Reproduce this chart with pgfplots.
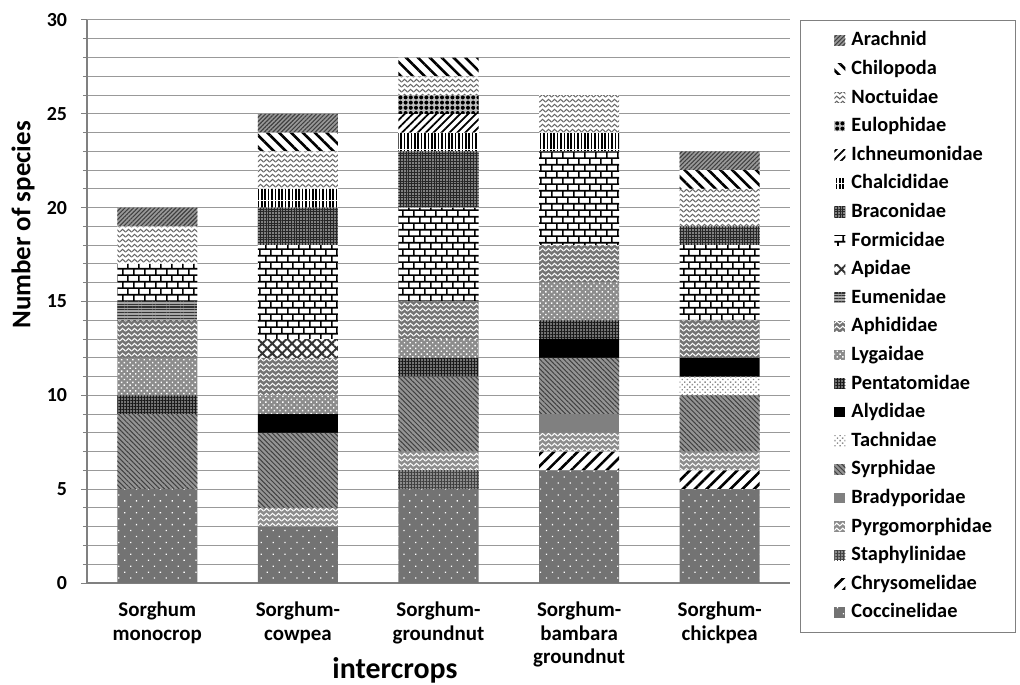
\documentclass[border=0pt]{standalone}
\usepackage{fontspec}
\setmainfont{Carlito}
\usepackage{pgfplots}
\pgfplotsset{compat=1.18}
\usepackage{pgfplotstable}
\usetikzlibrary{patterns,patterns.meta}

\tikzdeclarepattern{
  name=zigzag,
  type=uncolored,
  bounding box={(0,0) and (3bp,2.4bp)},
  tile size={(3bp,2.4bp)},
  code={\draw[line width=0.55bp] (-0.3bp,0.4bp)--(1.5bp,1.9bp)--(3.3bp,0.4bp);}
}
\tikzdeclarepattern{
  name=brick,
  type=uncolored,
  bounding box={(0,0) and (5.5bp,6.6bp)},
  tile size={(5.5bp,6.6bp)},
  code={\draw[line width=0.9bp] (-0.5bp,1bp)--(6bp,1bp) (-0.5bp,4.3bp)--(6bp,4.3bp)
        (1bp,1bp)--(1bp,4.3bp) (3.75bp,4.3bp)--(3.75bp,7bp) (3.75bp,-0.5bp)--(3.75bp,1bp);}
}

\pgfplotstableread{
idx Cocc Chry Stap Pyrg Brad Syrp Tach Alyd Pent Lyga Aphi Eume Apid Form Brac Chal Ichn Eulo Noct Chil Arac
0   5    0    0    0    0    4    0    0    1    2    2    1    0    2    0    0    0    0    2    0    1
1   3    0    0    1    0    4    0    1    0    1    2    0    1    5    2    1    0    0    2    1    1
2   5    0    1    1    0    4    0    0    1    1    2    0    0    5    3    1    1    1    1    1    0
3   6    1    0    1    1    3    0    1    1    2    2    0    0    5    0    1    0    0    2    0    0
4   5    1    0    1    0    3    1    1    0    0    2    0    0    4    1    0    0    0    2    1    1
}\data

\begin{document}
\begin{tikzpicture}
\path[use as bounding box] (-43.5bp,-51bp) rectangle (466.5bp,291.5bp);
\begin{axis}[
  at={(0,0)}, anchor=south west,
  scale only axis, width=351.5bp, height=281.5bp,
  ybar stacked, bar width=40bp,
  xmin=-0.5, xmax=4.5, ymin=0, ymax=30,
  axis x line=bottom, axis y line=left,
  x axis line style={-, draw=black!50, line width=0.7bp},
  y axis line style={-, draw=black!50, line width=0.7bp},
  xtick={0,1,2,3,4},
  xticklabels={Sorghum\\monocrop, Sorghum-\\cowpea, Sorghum-\\groundnut, Sorghum-\\bambara\\groundnut, Sorghum-\\chickpea},
  x tick style={draw=none},
  xticklabel style={align=center, font=\bfseries\fontsize{10.5}{11.8}\selectfont, yshift=-3bp},
  ytick={0,5,...,30}, minor y tick num=4,
  tick align=outside, ytick pos=left,
  y tick style={draw=black!50, line width=0.5bp},
  major tick length=3bp, minor tick length=2bp,
  yticklabel style={font=\bfseries\fontsize{10}{12}\selectfont, xshift=-3.5bp},
  /pgf/number format/assume math mode=true,
  ymajorgrids, yminorgrids,
  major grid style={draw=black!40, line width=0.5bp},
  minor grid style={draw=black!40, line width=0.5bp},
  ylabel={Number of species},
  ylabel style={at={(axis description cs:-0.091,0.636)}, anchor=center, font=\bfseries\fontsize{13.5}{16}\selectfont},
  xlabel={intercrops},
  xlabel style={at={(axis description cs:0.438,-0.155)}, anchor=center, font=\bfseries\fontsize{15}{18}\selectfont},
  legend style={at={(1.0142,1)}, anchor=north west, draw=black!50, line width=0.5bp,
    inner xsep=8.5bp, inner ysep=2.8bp,
    font=\bfseries\fontsize{10.2}{12}\selectfont,
    nodes={text height=8bp, text depth=2.5bp, inner ysep=1.9bp, inner xsep=3bp, anchor=west},
    column sep=0pt, row sep=0pt},
  legend cell align=left, reverse legend,
  every axis plot/.append style={draw=none, legend image code/.code={\pgfpathmoveto{\pgfqpoint{0bp}{0bp}}\pgfusepath{discard}\fill[##1] (8.5bp,-2.6bp) rectangle (14bp,2.6bp);}},
]
\addplot[fill=black!55, postaction={pattern={Dots[radius=0.45bp,distance=4.2bp,angle=45]}, pattern color=white}] table[x=idx,y=Cocc]{\data};
\addlegendentry{Coccinelidae}
\addplot[fill=white, postaction={pattern={Lines[angle=45,distance=4.2bp,line width=1.3bp]}, pattern color=black}] table[x=idx,y=Chry]{\data};
\addlegendentry{Chrysomelidae}
\addplot[fill=black!45, postaction={pattern={Hatch[distance=1.5bp,line width=0.45bp]}, pattern color=black!75}] table[x=idx,y=Stap]{\data};
\addlegendentry{Staphylinidae}
\addplot[fill=black!45, postaction={pattern=zigzag, pattern color=white}] table[x=idx,y=Pyrg]{\data};
\addlegendentry{Pyrgomorphidae}
\addplot[fill=black!50] table[x=idx,y=Brad]{\data};
\addlegendentry{Bradyporidae}
\addplot[fill=black!42, postaction={pattern={Lines[angle=-45,distance=1.7bp,line width=0.5bp]}, pattern color=black!75}] table[x=idx,y=Syrp]{\data};
\addlegendentry{Syrphidae}
\addplot[fill=white, postaction={pattern={Dots[radius=0.5bp,distance=1.8bp,angle=45]}, pattern color=black!45}] table[x=idx,y=Tach]{\data};
\addlegendentry{Tachnidae}
\addplot[fill=black] table[x=idx,y=Alyd]{\data};
\addlegendentry{Alydidae}
\addplot[fill=black!55, postaction={pattern={Hatch[distance=1.5bp,line width=0.45bp]}, pattern color=black!90}] table[x=idx,y=Pent]{\data};
\addlegendentry{Pentatomidae}
\addplot[fill=black!45, postaction={pattern={Dots[radius=0.5bp,distance=2bp,angle=45]}, pattern color=white}] table[x=idx,y=Lyga]{\data};
\addlegendentry{Lygaidae}
\addplot[fill=black!55, postaction={pattern=zigzag, pattern color=white}] table[x=idx,y=Aphi]{\data};
\addlegendentry{Aphididae}
\addplot[fill=black!35, postaction={pattern={Lines[angle=0,distance=1.4bp,line width=0.6bp]}, pattern color=black!80}] table[x=idx,y=Eume]{\data};
\addlegendentry{Eumenidae}
\addplot[fill=white, postaction={pattern={Hatch[angle=45,distance=3.5bp,line width=1bp]}, pattern color=black!80}] table[x=idx,y=Apid]{\data};
\addlegendentry{Apidae}
\addplot[fill=white, postaction={pattern=brick, pattern color=black}] table[x=idx,y=Form]{\data};
\addlegendentry{Formicidae}
\addplot[fill=black!50, postaction={pattern={Hatch[distance=1.4bp,line width=0.45bp]}, pattern color=black!85}] table[x=idx,y=Brac]{\data};
\addlegendentry{Braconidae}
\addplot[fill=white, postaction={pattern={Lines[angle=90,distance=1.7bp,line width=0.8bp]}, pattern color=black}] table[x=idx,y=Chal]{\data};
\addlegendentry{Chalcididae}
\addplot[fill=white, postaction={pattern={Lines[angle=45,distance=2.8bp,line width=0.9bp]}, pattern color=black}] table[x=idx,y=Ichn]{\data};
\addlegendentry{Ichneumonidae}
\addplot[fill=black!25, postaction={pattern={Dots[radius=1bp,distance=2.6bp]}, pattern color=black}] table[x=idx,y=Eulo]{\data};
\addlegendentry{Eulophidae}
\addplot[fill=white, postaction={pattern=zigzag, pattern color=black!60}] table[x=idx,y=Noct]{\data};
\addlegendentry{Noctuidae}
\addplot[fill=white, postaction={pattern={Lines[angle=-45,distance=4.2bp,line width=1.3bp]}, pattern color=black}] table[x=idx,y=Chil]{\data};
\addlegendentry{Chilopoda}
\addplot[fill=black!40, postaction={pattern={Lines[angle=45,distance=1.5bp,line width=0.55bp]}, pattern color=black!75}] table[x=idx,y=Arac]{\data};
\addlegendentry{Arachnid}
\end{axis}
\end{tikzpicture}
\end{document}
